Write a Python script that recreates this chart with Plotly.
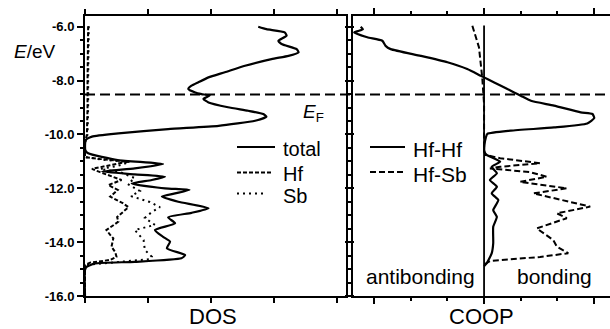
import plotly.graph_objects as go

# ---------------- data ----------------
E_FERMI = -8.52

total_E = [-6.00, -6.09, -6.21, -6.33, -6.52, -6.64, -6.83, -6.95, -7.08, -7.20, -7.45, -7.69,
           -7.88, -8.06, -8.19, -8.31, -8.44, -8.50, -8.56, -8.68, -8.81, -8.99, -9.12, -9.24,
           -9.34, -9.49, -9.68, -9.80, -9.96, -10.08, -10.21, -10.58, -10.70, -10.95, -11.10,
           -11.26, -11.38, -11.48, -11.57, -11.69, -11.82, -12.00, -12.06, -12.19, -12.31, -12.50,
           -12.74, -12.91, -13.08, -13.30, -13.55, -13.80, -13.98, -14.23, -14.48, -14.60, -14.73,
           -14.79, -14.91, -15.03, -16.00]
total_dos = [2.75, 2.88, 3.17, 3.20, 3.07, 3.12, 3.36, 3.39, 3.23, 2.96, 2.54, 2.22,
             1.96, 1.80, 1.69, 1.64, 1.75, 1.85, 1.98, 1.88, 1.96, 2.27, 2.59, 2.83,
             2.88, 2.70, 2.12, 1.32, 0.53, 0.11, 0.01, 0.005, 0.05, 0.52, 1.24,
             0.79, 0.27, 0.79, 1.27, 1.06, 0.74, 1.27, 1.66, 1.43, 1.22, 1.48,
             1.96, 1.69, 1.32, 1.43, 1.11, 1.24, 1.35, 1.30, 1.59, 1.53, 0.79,
             0.16, 0.03, 0.0, 0.0]

hf_E = [-5.98, -7.0, -8.0, -9.0, -10.0, -10.30, -10.84, -10.91, -11.01, -11.14, -11.28, -11.40,
        -11.69, -11.88, -12.06, -12.31, -12.55, -12.70, -13.07, -13.24, -13.55, -13.73, -13.86,
        -14.17, -14.37, -14.54, -14.66, -14.76, -14.85, -16.0]
hf_dos = [0.05, 0.04, 0.04, 0.04, 0.03, 0.0, 0.0, 0.24, 0.68, 0.40, 0.11, 0.24,
          0.58, 0.37, 0.52, 0.40, 0.60, 0.69, 0.51, 0.53, 0.34, 0.40, 0.45,
          0.42, 0.48, 0.50, 0.40, 0.08, 0.0, 0.0]

sb_E = [-5.98, -7.0, -8.0, -9.0, -10.0, -10.30, -10.84, -10.95, -11.02, -11.17, -11.28, -11.40,
        -11.62, -11.84, -12.00, -12.10, -12.29, -12.51, -12.70, -12.88, -13.10, -13.36, -13.55,
        -13.92, -14.29, -14.54, -14.63, -14.76, -14.85, -16.0]
sb_dos = [0.06, 0.05, 0.05, 0.05, 0.04, 0.0, 0.0, 0.32, 0.71, 0.52, 0.24, 0.56,
          0.79, 0.68, 0.79, 0.87, 0.73, 1.03, 1.19, 1.06, 0.95, 1.11, 0.79,
          0.93, 0.95, 1.06, 1.03, 0.40, 0.0, 0.0]

hfhf_E = [-6.00, -6.09, -6.16, -6.21, -6.39, -6.52, -6.71, -6.83, -7.08, -7.32, -7.57, -7.82,
          -7.94, -8.19, -8.44, -8.56, -8.75, -8.93, -9.18, -9.24, -9.39, -9.59, -9.74, -9.86,
          -9.98, -10.11, -10.39, -10.65, -10.76, -11.01, -11.20, -11.44, -11.69, -11.94, -12.19,
          -12.44, -12.81, -13.06, -13.43, -14.04, -14.41, -14.79, -14.89]
hfhf_coop = [-0.337, -0.331, -0.344, -0.355, -0.319, -0.278, -0.269, -0.255, -0.173, -0.100, -0.046, -0.009,
             0.009, 0.046, 0.082, 0.100, 0.128, 0.191, 0.264, 0.296, 0.301, 0.282, 0.191, 0.073,
             0.009, 0.005, 0.001, 0.001, 0.007, 0.044, 0.021, 0.035, 0.016, 0.035, 0.021,
             0.039, 0.025, 0.035, 0.025, 0.025, 0.021, 0.007, 0.0]

hfsb_E = [-5.96, -6.76, -7.88, -8.38, -8.87, -10.58, -10.76, -10.88, -11.07, -11.20, -11.26, -11.40,
          -11.57, -11.76, -12.00, -12.19, -12.68, -12.93, -13.11, -13.49, -13.92, -14.17, -14.41,
          -14.55, -14.70, -14.81, -14.89]
hfsb_coop = [-0.032, -0.014, -0.005, -0.002, 0.0, 0.0, 0.003, 0.044, 0.153, 0.044, 0.016, 0.126,
             0.171, 0.098, 0.226, 0.135, 0.290, 0.199, 0.226, 0.144, 0.189, 0.199, 0.230,
             0.153, 0.016, 0.003, 0.0]

y_tickvals = [-6, -8, -10, -12, -14, -16]
y_ticktext = ["-6.0", "-8.0", "-10.0", "-12.0", "-14.0", "-16.0"]

dos_names = ["total", "Hf", "Sb"]
coop_names = ["Hf-Hf", "Hf-Sb"]

# ---------------- styles ----------------
FONT = "Liberation Sans, Arial, Helvetica, sans-serif"
W = 610
H_REF = 329      # layout positions below are measured on a 329 px tall picture
H_FIG = 337      # the page viewport is a little taller than the picture
SOLID = dict(color="black", width=2.2)
DASH_HF = dict(color="black", width=2, dash="4px,2px")
DOT_SB = dict(color="black", width=2, dash="2px,4px")
DASH_HFSB = dict(color="black", width=2, dash="6px,3px")

fig = go.Figure()
fig.add_trace(go.Scatter(x=total_dos, y=total_E, mode="lines", name=dos_names[0],
                         line=dict(**SOLID, shape="spline", smoothing=0.5), xaxis="x", yaxis="y"))
fig.add_trace(go.Scatter(x=hf_dos, y=hf_E, mode="lines", name=dos_names[1],
                         line=DASH_HF, xaxis="x", yaxis="y"))
fig.add_trace(go.Scatter(x=sb_dos, y=sb_E, mode="lines", name=dos_names[2],
                         line=DOT_SB, xaxis="x", yaxis="y"))
fig.add_trace(go.Scatter(x=hfhf_coop, y=hfhf_E, mode="lines", name=coop_names[0],
                         line=dict(**SOLID, shape="spline", smoothing=0.5), xaxis="x2", yaxis="y2"))
fig.add_trace(go.Scatter(x=hfsb_coop, y=hfsb_E, mode="lines", name=coop_names[1],
                         line=DASH_HFSB, xaxis="x2", yaxis="y2"))


def px_x(p):
    return p / W


def px_y(p):
    return 1 - p / H_REF


yd = [px_y(296), px_y(16)]
yrange = [-16, -5.6]

common_y = dict(range=yrange, domain=yd, showline=True, linecolor="black", linewidth=2,
                ticks="outside", ticklen=6, tickwidth=1.5, tickcolor="black",
                tickvals=y_tickvals, showgrid=False, zeroline=False,
                minor=dict(dtick=0.5, ticks="outside", ticklen=3, tickwidth=1.5, tickcolor="black"))

fig.update_layout(
    width=W, height=H_FIG, autosize=False,
    margin=dict(l=0, r=0, t=0, b=0),
    paper_bgcolor="white", plot_bgcolor="white",
    showlegend=False,
    xaxis=dict(domain=[px_x(85), px_x(346)], range=[0, 4.143], showline=True, mirror="ticks",
               linecolor="black", linewidth=2, ticks="outside", ticklen=5, tickwidth=1.5,
               tickcolor="black", dtick=1, tick0=0, showticklabels=False, showgrid=False,
               zeroline=False),
    yaxis=dict(**common_y, ticktext=y_ticktext, mirror="ticks",
               tickfont=dict(family=FONT, size=13, color="black", weight="bold"), anchor="x"),
    xaxis2=dict(domain=[px_x(353), 1.0], range=[-0.358, 0.344], showline=True, mirror="ticks",
                linecolor="black", linewidth=2, ticks="outside", ticklen=6, tickwidth=1.5,
                tickcolor="black", dtick=0.3, tick0=0, showticklabels=False, showgrid=False,
                zeroline=False, anchor="y2",
                minor=dict(dtick=0.1, ticks="outside", ticklen=3, tickwidth=1.5, tickcolor="black")),
    yaxis2=dict(**common_y, showticklabels=False, anchor="x2"),
)

# Fermi level across both panels and COOP zero line
fig.add_shape(type="line", xref="paper", yref="y", x0=px_x(85), x1=1.0, y0=E_FERMI, y1=E_FERMI,
              line=dict(color="black", width=2, dash="10px,5px"))
fig.add_shape(type="line", xref="x2", yref="y2", x0=0, x1=0, y0=-16, y1=-5.95,
              line=dict(color="black", width=1.8))

# hand-made legends (two separate legend blocks, as in the original)
legend_rows = [
    (dos_names[0], SOLID, 237, 275, 147, 281, 20),
    (dos_names[1], DASH_HF, 237, 273, 172.5, 281, 20),
    (dos_names[2], DOT_SB, 237, 266, 193.5, 281, 20),
    (coop_names[0], SOLID, 370, 405, 147, 411, 21),
    (coop_names[1], DASH_HFSB, 370, 405, 172, 411, 21),
]
for name, style, lx0, lx1, ly, tx, fs in legend_rows:
    fig.add_shape(type="line", xref="paper", yref="paper", x0=px_x(lx0), x1=px_x(lx1),
                  y0=px_y(ly), y1=px_y(ly), line=style)
    fig.add_annotation(text=name, xref="paper", yref="paper", x=px_x(tx), y=px_y(ly + 2),
                       xanchor="left", yanchor="middle", showarrow=False,
                       font=dict(family=FONT, size=fs, color="black"))

ann = [
    ("<i>E</i>/eV", 12, 51, "left", 19),
    ("<i>E</i><sub>F</sub>", 301, 113, "left", 19),
    ("DOS", 213, 316.5, "center", 22),
    ("COOP", 482, 316.5, "center", 22),
    ("antibonding", 420, 276, "center", 21),
    ("bonding", 554, 276, "center", 21),
]
for text, x, y, xa, size in ann:
    fig.add_annotation(text=text, xref="paper", yref="paper", x=px_x(x), y=px_y(y),
                       xanchor=xa, yanchor="middle", showarrow=False,
                       font=dict(family=FONT, size=size, color="black"))

# the page body has a default 8px margin; remove it so the figure fills the window exactly
fig.write_html("out.html",
               config={"displayModeBar": False, "responsive": False},
               post_script="document.body.style.margin='0';document.body.style.overflow='hidden';")
